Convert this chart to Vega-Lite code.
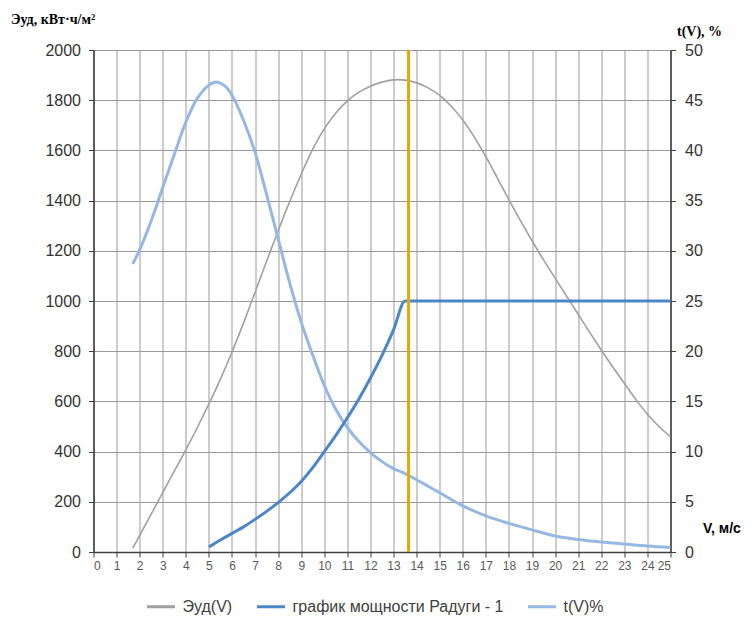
{
  "$schema": "https://vega.github.io/schema/vega-lite/v6.json",
  "width": 577,
  "height": 502,
  "autosize": {"type": "none"},
  "padding": {"left": 93.5, "top": 50, "right": 82.5, "bottom": 69},
  "background": "white",
  "config": {
    "view": {"stroke": "#999999", "strokeWidth": 1},
    "font": "Liberation Sans",
    "axis": {
      "gridColor": "#999999",
      "gridWidth": 1,
      "gridOpacity": 1,
      "domainColor": "#404040",
      "domainWidth": 1.5,
      "tickColor": "#404040",
      "tickSize": 5,
      "labelFont": "Liberation Sans",
      "labelColor": "#333333",
      "labelOverlap": false
    },
    "legend": {
      "orient": "none",
      "legendX": 52,
      "legendY": 541,
      "direction": "horizontal",
      "symbolType": "stroke",
      "symbolStrokeWidth": 3,
      "symbolSize": 784,
      "labelFontSize": 16,
      "labelColor": "#404040",
      "labelFont": "Liberation Sans",
      "labelLimit": 400,
      "columnPadding": 18,
      "labelOffset": 6
    }
  },
  "datasets": {
    "e": [
      {"V": 1.7, "val": 15}, {"V": 2, "val": 66}, {"V": 2.5, "val": 151}, {"V": 3, "val": 237},
      {"V": 3.5, "val": 322}, {"V": 4, "val": 407}, {"V": 4.5, "val": 496}, {"V": 5, "val": 590},
      {"V": 5.5, "val": 689}, {"V": 6, "val": 797}, {"V": 6.5, "val": 912}, {"V": 7, "val": 1035},
      {"V": 7.5, "val": 1158}, {"V": 8, "val": 1280}, {"V": 8.5, "val": 1396}, {"V": 9, "val": 1505},
      {"V": 9.5, "val": 1605}, {"V": 10, "val": 1686}, {"V": 10.5, "val": 1749}, {"V": 11, "val": 1797},
      {"V": 11.5, "val": 1832}, {"V": 12, "val": 1856}, {"V": 12.5, "val": 1872}, {"V": 13, "val": 1881},
      {"V": 13.5, "val": 1880}, {"V": 14, "val": 1869}, {"V": 14.5, "val": 1849}, {"V": 15, "val": 1819},
      {"V": 15.5, "val": 1776}, {"V": 16, "val": 1721}, {"V": 16.5, "val": 1653}, {"V": 17, "val": 1575},
      {"V": 17.5, "val": 1490}, {"V": 18, "val": 1403}, {"V": 18.5, "val": 1320}, {"V": 19, "val": 1240},
      {"V": 19.5, "val": 1164}, {"V": 20, "val": 1091}, {"V": 20.5, "val": 1019}, {"V": 21, "val": 947},
      {"V": 21.5, "val": 875}, {"V": 22, "val": 805}, {"V": 22.5, "val": 737}, {"V": 23, "val": 672},
      {"V": 23.5, "val": 607}, {"V": 24, "val": 549}, {"V": 24.5, "val": 500}, {"V": 25, "val": 459}
    ],
    "p": [
      {"V": 5, "val": 20}, {"V": 5.5, "val": 48}, {"V": 6, "val": 74}, {"V": 6.5, "val": 100},
      {"V": 7, "val": 130}, {"V": 7.5, "val": 162}, {"V": 8, "val": 197}, {"V": 8.5, "val": 236},
      {"V": 9, "val": 281}, {"V": 9.5, "val": 336}, {"V": 10, "val": 400}, {"V": 10.5, "val": 465},
      {"V": 11, "val": 535}, {"V": 11.5, "val": 610}, {"V": 12, "val": 693}, {"V": 12.5, "val": 783},
      {"V": 13, "val": 885}, {"V": 13.5, "val": 1000}, {"V": 25, "val": 1000}
    ],
    "t": [
      {"V": 1.7, "val": 28.7}, {"V": 2, "val": 30.1}, {"V": 2.5, "val": 33}, {"V": 3, "val": 36.3},
      {"V": 3.5, "val": 39.6}, {"V": 4, "val": 42.8}, {"V": 4.5, "val": 45.2}, {"V": 5, "val": 46.5},
      {"V": 5.35, "val": 46.8}, {"V": 5.7, "val": 46.4}, {"V": 6, "val": 45.5}, {"V": 6.5, "val": 43},
      {"V": 7, "val": 39.8}, {"V": 7.5, "val": 35.6}, {"V": 8, "val": 31.2}, {"V": 8.5, "val": 26.8},
      {"V": 9, "val": 22.9}, {"V": 9.5, "val": 19.6}, {"V": 10, "val": 16.6}, {"V": 10.5, "val": 14.2},
      {"V": 11, "val": 12.4}, {"V": 11.5, "val": 11}, {"V": 12, "val": 9.9}, {"V": 12.5, "val": 9},
      {"V": 13, "val": 8.3}, {"V": 13.5, "val": 7.8}, {"V": 14, "val": 7.2}, {"V": 15, "val": 5.9},
      {"V": 16, "val": 4.6}, {"V": 17, "val": 3.6}, {"V": 18, "val": 2.85}, {"V": 19, "val": 2.2},
      {"V": 20, "val": 1.6}, {"V": 21, "val": 1.25}, {"V": 22, "val": 1.0}, {"V": 23, "val": 0.8},
      {"V": 24, "val": 0.6}, {"V": 25, "val": 0.45}
    ],
    "r": [{"V": 13.65}]
  },
  "layer": [
    {
      "data": {"name": "e"},
      "mark": {"type": "line", "interpolate": "catmull-rom", "strokeWidth": 1.6},
      "encoding": {
        "x": {
          "field": "V", "type": "quantitative",
          "scale": {"domain": [0, 25], "nice": false},
          "axis": {
            "tickCount": 25, "format": "d",
            "title": "V, м/с", "titleFont": "Liberation Sans", "titleFontWeight": "bold",
            "titleFontSize": 14, "titleColor": "#000000", "titleAlign": "left",
            "titleBaseline": "alphabetic", "titleX": 609, "titleY": -20,
            "labelFontSize": 12, "labelColor": "#595959", "labelPadding": 3, "labelOverlap": false,
            "grid": true
          }
        },
        "y": {
          "field": "val", "type": "quantitative",
          "scale": {"domain": [0, 2000], "nice": false},
          "axis": {
            "orient": "left",
            "values": [0,200,400,600,800,1000,1200,1400,1600,1800,2000],
            "format": "d",
            "title": "Эуд, кВт·ч/м²", "titleFont": "Liberation Serif", "titleFontSize": 14,
            "titleFontWeight": "bold", "titleColor": "#000000", "titleAngle": 0,
            "titleAlign": "left", "titleBaseline": "alphabetic", "titleX": -83, "titleY": -27,
            "labelFontSize": 16, "labelPadding": 8, "grid": true
          }
        },
        "color": {
          "datum": "Эуд(V)", "type": "nominal",
          "scale": {"domain": ["Эуд(V)", "график мощности Радуги - 1", "t(V)%"], "range": ["#a0a0a0", "#4a86c8", "#95b8e3"]},
          "legend": {"title": null}
        }
      }
    },
    {
      "data": {"name": "t"},
      "mark": {"type": "line", "interpolate": "catmull-rom", "strokeWidth": 3},
      "encoding": {
        "x": {
          "field": "V", "type": "quantitative",
          "scale": {"domain": [0, 25], "nice": false},
          "axis": {
            "tickCount": 25, "format": "d",
            "title": "V, м/с", "titleFont": "Liberation Sans", "titleFontWeight": "bold",
            "titleFontSize": 14, "titleColor": "#000000", "titleAlign": "left",
            "titleBaseline": "alphabetic", "titleX": 609, "titleY": -20,
            "labelFontSize": 12, "labelColor": "#595959", "labelPadding": 3, "labelOverlap": false,
            "grid": true
          }
        },
        "y": {
          "field": "val", "type": "quantitative",
          "scale": {"domain": [0, 50], "nice": false},
          "axis": {
            "orient": "right",
            "values": [0,5,10,15,20,25,30,35,40,45,50],
            "format": "d",
            "title": "t(V), %", "titleFont": "Liberation Serif", "titleFontSize": 14,
            "titleFontWeight": "bold", "titleColor": "#000000", "titleAngle": 0,
            "titleAlign": "left", "titleBaseline": "alphabetic", "titleX": 6, "titleY": -15,
            "labelFontSize": 16, "labelPadding": 9, "grid": false
          }
        },
        "color": {"datum": "t(V)%", "type": "nominal", "legend": {"title": null}}
      }
    },
    {
      "data": {"name": "p"},
      "mark": {"type": "line", "interpolate": "monotone", "strokeWidth": 3},
      "encoding": {
        "x": {
          "field": "V", "type": "quantitative",
          "scale": {"domain": [0, 25], "nice": false},
          "axis": {
            "tickCount": 25, "format": "d",
            "title": "V, м/с", "titleFont": "Liberation Sans", "titleFontWeight": "bold",
            "titleFontSize": 14, "titleColor": "#000000", "titleAlign": "left",
            "titleBaseline": "alphabetic", "titleX": 609, "titleY": -20,
            "labelFontSize": 12, "labelColor": "#595959", "labelPadding": 3, "labelOverlap": false,
            "grid": true
          }
        },
        "y": {"field": "val", "type": "quantitative", "scale": {"domain": [0, 2000], "nice": false}, "axis": null},
        "color": {"datum": "график мощности Радуги - 1", "type": "nominal", "legend": {"title": null}}
      }
    },
    {
      "data": {"name": "r"},
      "mark": {"type": "rule", "color": "#e6a800", "strokeWidth": 3},
      "encoding": {
        "x": {
          "field": "V", "type": "quantitative",
          "scale": {"domain": [0, 25], "nice": false},
          "axis": {
            "tickCount": 25, "format": "d",
            "title": "V, м/с", "titleFont": "Liberation Sans", "titleFontWeight": "bold",
            "titleFontSize": 14, "titleColor": "#000000", "titleAlign": "left",
            "titleBaseline": "alphabetic", "titleX": 609, "titleY": -20,
            "labelFontSize": 12, "labelColor": "#595959", "labelPadding": 3, "labelOverlap": false,
            "grid": true
          }
        }
      }
    }
  ],
  "resolve": {"scale": {"y": "independent"}}
}
